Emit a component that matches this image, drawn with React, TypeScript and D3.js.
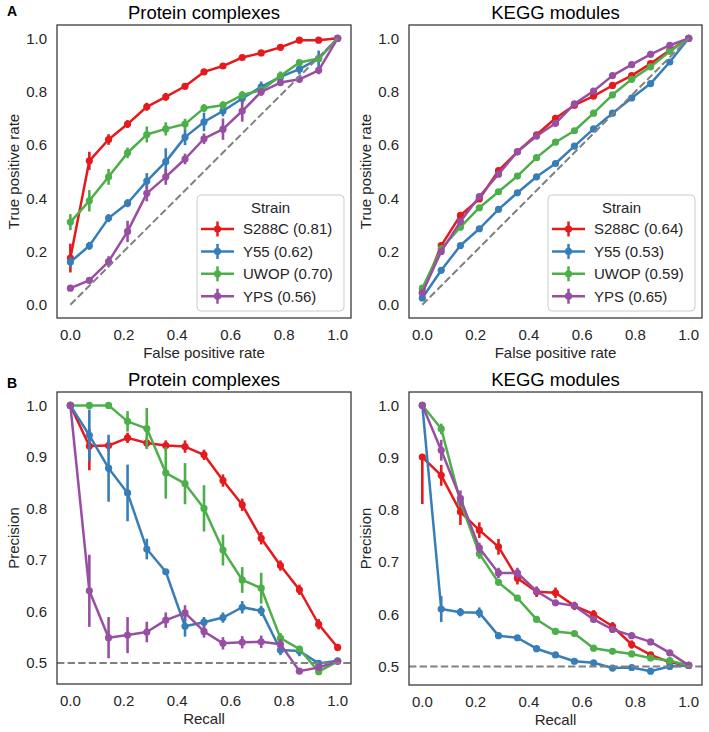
import React from "react";
import * as d3 from "d3";

// ---------- data ----------
const thresholds = [0, 0.071, 0.143, 0.214, 0.286, 0.357, 0.429, 0.5, 0.571, 0.643, 0.714, 0.786, 0.857, 0.929, 1.0];
const strains = ["S288C", "Y55", "UWOP", "YPS"];
const strainColors = ["#e41a1c", "#377eb8", "#4daf4a", "#984ea3"];

// A: ROC, protein complexes
const rocComplexS288C = [0.175, 0.54, 0.62, 0.678, 0.743, 0.78, 0.82, 0.874, 0.896, 0.928, 0.945, 0.966, 0.993, 0.993, 1.0];
const rocComplexY55 = [0.16, 0.221, 0.325, 0.381, 0.464, 0.537, 0.629, 0.686, 0.727, 0.774, 0.818, 0.855, 0.884, 0.924, 1.0];
const rocComplexUWOP = [0.31, 0.39, 0.48, 0.57, 0.639, 0.66, 0.678, 0.738, 0.749, 0.787, 0.805, 0.859, 0.909, 0.924, 1.0];
const rocComplexYPS = [0.062, 0.091, 0.162, 0.275, 0.418, 0.48, 0.547, 0.623, 0.659, 0.727, 0.799, 0.834, 0.846, 0.88, 1.0];
const rocComplexErrS288C: (number | number[])[] = [0.054, 0.034, 0.02, 0.015, 0.015, 0.015, 0.012, 0.01, 0.01, 0.008, 0.008, 0.008, 0.005, 0.005, 0];
const rocComplexErrY55: (number | number[])[] = [0.02, 0.015, 0.015, 0.015, 0.03, 0.05, 0.03, 0.035, 0.02, 0.02, 0.02, 0.02, 0.02, 0.03, 0];
const rocComplexErrUWOP: (number | number[])[] = [0.03, 0.04, 0.03, 0.02, 0.03, 0.025, 0.02, 0.015, 0.015, 0.015, 0.015, 0.015, 0.01, 0.01, 0];
const rocComplexErrYPS: (number | number[])[] = [0.005, 0.01, 0.02, 0.04, 0.03, 0.03, 0.02, 0.02, 0.04, 0.04, 0.015, 0.01, 0.01, 0.015, 0];
const rocComplexAUC = ["0.81", "0.62", "0.70", "0.56"];

// A: ROC, KEGG modules
const rocKeggS288C = [0.045, 0.222, 0.335, 0.397, 0.503, 0.574, 0.638, 0.7, 0.749, 0.783, 0.823, 0.86, 0.905, 0.955, 1.0];
const rocKeggY55 = [0.025, 0.129, 0.222, 0.285, 0.358, 0.42, 0.48, 0.53, 0.595, 0.66, 0.719, 0.776, 0.83, 0.911, 1.0];
const rocKeggUWOP = [0.062, 0.21, 0.291, 0.364, 0.424, 0.483, 0.552, 0.61, 0.653, 0.719, 0.788, 0.846, 0.893, 0.951, 1.0];
const rocKeggYPS = [0.045, 0.2, 0.312, 0.406, 0.49, 0.574, 0.633, 0.681, 0.754, 0.802, 0.86, 0.901, 0.94, 0.974, 1.0];
const rocKeggErrS288C: (number | number[])[] = [0.005, 0.01, 0.01, 0.008, 0.008, 0.006, 0.006, 0.005, 0.005, 0.005, 0.005, 0.004, 0.004, 0.003, 0];
const rocKeggErrY55: (number | number[])[] = [0.004, 0.008, 0.008, 0.006, 0.006, 0.005, 0.005, 0.005, 0.005, 0.005, 0.004, 0.004, 0.004, 0.003, 0];
const rocKeggErrUWOP: (number | number[])[] = [0.005, 0.008, 0.008, 0.006, 0.006, 0.005, 0.005, 0.005, 0.005, 0.005, 0.004, 0.004, 0.004, 0.003, 0];
const rocKeggErrYPS: (number | number[])[] = [0.005, 0.01, 0.012, 0.008, 0.008, 0.006, 0.006, 0.005, 0.005, 0.005, 0.005, 0.004, 0.004, 0.003, 0];
const rocKeggAUC = ["0.64", "0.53", "0.59", "0.65"];

// B: precision-recall, protein complexes
const prComplexS288C = [1.0, 0.921, 0.922, 0.937, 0.927, 0.922, 0.92, 0.904, 0.854, 0.807, 0.742, 0.689, 0.642, 0.575, 0.53];
const prComplexY55 = [1.0, 0.942, 0.878, 0.83, 0.721, 0.677, 0.571, 0.579, 0.588, 0.608, 0.601, 0.525, 0.523, 0.499, 0.504];
const prComplexUWOP = [1.0, 1.0, 1.0, 0.969, 0.955, 0.869, 0.848, 0.8, 0.719, 0.661, 0.645, 0.548, 0.527, 0.483, 0.503];
const prComplexYPS = [1.0, 0.64, 0.549, 0.554, 0.56, 0.583, 0.597, 0.561, 0.538, 0.54, 0.541, 0.536, 0.484, 0.491, 0.503];
const prComplexErrS288C: (number | number[])[] = [0, [0.047, 0.033], 0.01, 0.01, 0.01, 0.01, 0.012, 0.01, 0.012, 0.012, 0.012, 0.01, 0.01, 0.01, 0];
const prComplexErrY55: (number | number[])[] = [0, 0.05, 0.065, 0.055, 0.02, 0.005, 0.02, 0.01, 0.01, 0.012, 0.01, 0.01, 0.01, 0.005, 0.005];
const prComplexErrUWOP: (number | number[])[] = [0, 0, 0, 0.02, 0.04, 0.05, 0.04, 0.045, 0.03, 0.025, 0.03, 0.01, 0.005, 0.005, 0];
const prComplexErrYPS: (number | number[])[] = [0, 0.07, 0.04, 0.035, 0.02, 0.015, 0.015, 0.012, 0.012, 0.012, 0.012, 0.01, 0.005, 0.005, 0];

// B: precision-recall, KEGG modules
const prKeggS288C = [0.901, 0.866, 0.796, 0.761, 0.729, 0.669, 0.643, 0.641, 0.616, 0.6, 0.577, 0.542, 0.522, 0.508, 0.502];
const prKeggY55 = [1.0, 0.61, 0.604, 0.603, 0.559, 0.555, 0.534, 0.522, 0.51, 0.507, 0.497, 0.498, 0.491, 0.5, 0.502];
const prKeggUWOP = [1.0, 0.955, 0.815, 0.716, 0.661, 0.631, 0.59, 0.567, 0.563, 0.535, 0.529, 0.524, 0.516, 0.511, 0.502];
const prKeggYPS = [1.0, 0.914, 0.822, 0.727, 0.679, 0.679, 0.644, 0.622, 0.616, 0.59, 0.571, 0.559, 0.547, 0.526, 0.502];
const prKeggErrS288C: (number | number[])[] = [[0.09, 0.0], 0.02, 0.025, 0.015, 0.015, 0.012, 0.01, 0.01, 0.008, 0.008, 0.008, 0.008, 0.005, 0.005, 0];
const prKeggErrY55: (number | number[])[] = [0, 0.025, 0.008, 0.01, 0.005, 0.005, 0.005, 0.005, 0.005, 0.005, 0.004, 0.004, 0.004, 0.004, 0];
const prKeggErrUWOP: (number | number[])[] = [0, 0.01, 0.01, 0.01, 0.006, 0.006, 0.005, 0.005, 0.005, 0.005, 0.004, 0.004, 0.004, 0.004, 0];
const prKeggErrYPS: (number | number[])[] = [0, 0.02, 0.015, 0.01, 0.01, 0.01, 0.006, 0.005, 0.005, 0.005, 0.005, 0.005, 0.005, 0.005, 0];

const rocTicks = [0.0, 0.2, 0.4, 0.6, 0.8, 1.0];
const prYTicks = [0.5, 0.6, 0.7, 0.8, 0.9, 1.0];
const xTicks = [0.0, 0.2, 0.4, 0.6, 0.8, 1.0];

// ---------- style ----------
const FONT = "'Liberation Sans', Arial, Helvetica, sans-serif";
const TEXT = "#262626";

type Series = { name: string; color: string; values: number[]; err: (number | number[])[] };

function mkSeries(vals: number[][], errs: (number | number[])[][], aucs?: string[]): Series[] {
  return strains.map((s, i) => ({
    name: aucs ? `${s} (${aucs[i]})` : s,
    color: strainColors[i],
    values: vals[i],
    err: errs[i],
  }));
}

type PanelProps = {
  left: number; top: number; width: number; height: number;
  yDomain: [number, number];
  yTicks: number[];
  title: string; xLabel: string; yLabel: string;
  series: Series[];
  diagonal?: boolean;
  hline?: number;
  legend?: boolean;
};

function Panel(p: PanelProps) {
  const x = d3.scaleLinear().domain([-0.05, 1.05]).range([p.left, p.left + p.width]);
  const y = d3.scaleLinear().domain(p.yDomain).range([p.top + p.height, p.top]);
  const line = d3.line<number>().x((_, i) => x(thresholds[i])).y((d) => y(d));
  const right = p.left + p.width;
  const bottom = p.top + p.height;
  const clipId = `clip-${p.left}-${p.top}`;

  const lgW = 147, lgH = 116;
  const lgX = right - 7 - lgW;
  const lgY = bottom - 7 - lgH;

  return (
    <g>
      <defs>
        <clipPath id={clipId}>
          <rect x={p.left} y={p.top} width={p.width} height={p.height} />
        </clipPath>
      </defs>
      <g clipPath={`url(#${clipId})`}>
        {p.series.map((s) => (
          <g key={s.name}>
            <path d={line(s.values) || ""} fill="none" stroke={s.color} strokeWidth={2.5} strokeLinejoin="round" />
            {s.values.map((v, i) => {
              const e = s.err[i];
              const dn = Array.isArray(e) ? e[0] : e;
              const up = Array.isArray(e) ? e[1] : e;
              if (dn === 0 && up === 0) return null;
              return (
                <line key={i} x1={x(thresholds[i])} x2={x(thresholds[i])} y1={y(v - dn)} y2={y(v + up)} stroke={s.color} strokeWidth={2.6} />
              );
            })}
            {s.values.map((v, i) => (
              <circle key={`m${i}`} cx={x(thresholds[i])} cy={y(v)} r={3.6} fill={s.color} />
            ))}
          </g>
        ))}
        {p.diagonal && (
          <line x1={x(0)} y1={y(0)} x2={x(1)} y2={y(1)} stroke="#808080" strokeWidth={2} strokeDasharray="7.4,3.2" />
        )}
        {p.hline !== undefined && (
          <line x1={p.left} x2={right} y1={y(p.hline)} y2={y(p.hline)} stroke="#808080" strokeWidth={2} strokeDasharray="7.4,3.2" />
        )}
      </g>
      <rect x={p.left} y={p.top} width={p.width} height={p.height} fill="none" stroke="#333" strokeWidth={1.25} />
      {p.yTicks.map((t) => (
        <text key={`y${t}`} x={p.left - 10} y={y(t)} dy="0.36em" textAnchor="end" fontSize={15} fill={TEXT} fontFamily={FONT}>
          {t.toFixed(1)}
        </text>
      ))}
      {xTicks.map((t) => (
        <text key={`x${t}`} x={x(t)} y={bottom + 22} textAnchor="middle" fontSize={15} fill={TEXT} fontFamily={FONT}>
          {t.toFixed(1)}
        </text>
      ))}
      <text x={(p.left + right) / 2} y={bottom + 40} textAnchor="middle" fontSize={15} fill={TEXT} fontFamily={FONT}>
        {p.xLabel}
      </text>
      <text transform={`translate(${p.left - 38},${(p.top + bottom) / 2}) rotate(-90)`} textAnchor="middle" fontSize={15} fill={TEXT} fontFamily={FONT}>
        {p.yLabel}
      </text>
      <text x={(p.left + right) / 2} y={p.top - 6} textAnchor="middle" fontSize={18.5} fill="#000" fontFamily={FONT}>
        {p.title}
      </text>
      {p.legend && (
        <g>
          <rect x={lgX} y={lgY} width={lgW} height={lgH} rx={4} ry={4} fill="#fff" fillOpacity={0.8} stroke="#cccccc" strokeWidth={1} />
          <text x={lgX + lgW / 2} y={lgY + 13} dy="0.36em" textAnchor="middle" fontSize={15} fill={TEXT} fontFamily={FONT}>
            Strain
          </text>
          {p.series.map((s, i) => {
            const cy = lgY + 34 + i * 22.4;
            return (
              <g key={`lg${s.name}`}>
                <line x1={lgX + 4} x2={lgX + 37} y1={cy} y2={cy} stroke={s.color} strokeWidth={2.5} />
                <line x1={lgX + 20.5} x2={lgX + 20.5} y1={cy - 7.5} y2={cy + 7.5} stroke={s.color} strokeWidth={2.5} />
                <circle cx={lgX + 20.5} cy={cy} r={3.6} fill={s.color} />
                <text x={lgX + 46} y={cy} dy="0.36em" fontSize={15} fill={TEXT} fontFamily={FONT}>
                  {s.name}
                </text>
              </g>
            );
          })}
        </g>
      )}
    </g>
  );
}

export default function App() {
  const rocComplex = mkSeries(
    [rocComplexS288C, rocComplexY55, rocComplexUWOP, rocComplexYPS],
    [rocComplexErrS288C, rocComplexErrY55, rocComplexErrUWOP, rocComplexErrYPS],
    rocComplexAUC
  );
  const rocKegg = mkSeries(
    [rocKeggS288C, rocKeggY55, rocKeggUWOP, rocKeggYPS],
    [rocKeggErrS288C, rocKeggErrY55, rocKeggErrUWOP, rocKeggErrYPS],
    rocKeggAUC
  );
  const prComplex = mkSeries(
    [prComplexS288C, prComplexY55, prComplexUWOP, prComplexYPS],
    [prComplexErrS288C, prComplexErrY55, prComplexErrUWOP, prComplexErrYPS]
  );
  const prKegg = mkSeries(
    [prKeggS288C, prKeggY55, prKeggUWOP, prKeggYPS],
    [prKeggErrS288C, prKeggErrY55, prKeggErrUWOP, prKeggErrYPS]
  );

  return (
    <svg width={709} height={732} style={{ position: "absolute", left: 0, top: 0, background: "#fff" }}>
      <rect width={709} height={732} fill="#fff" />
      <text x={7} y={16} fontSize={14} fontWeight="bold" fill="#000" fontFamily={FONT}>A</text>
      <text x={7} y={388} fontSize={14} fontWeight="bold" fill="#000" fontFamily={FONT}>B</text>
      <Panel left={57} top={25} width={294} height={293} yDomain={[-0.05, 1.05]} yTicks={rocTicks}
        title="Protein complexes" xLabel="False positive rate" yLabel="True positive rate"
        series={rocComplex} diagonal legend />
      <Panel left={409} top={25} width={293} height={293} yDomain={[-0.05, 1.05]} yTicks={rocTicks}
        title="KEGG modules" xLabel="False positive rate" yLabel="True positive rate"
        series={rocKegg} diagonal legend />
      <Panel left={57} top={392} width={294} height={292} yDomain={[0.459, 1.026]} yTicks={prYTicks}
        title="Protein complexes" xLabel="Recall" yLabel="Precision"
        series={prComplex} hline={0.5} />
      <Panel left={409} top={392} width={293} height={293} yDomain={[0.4645, 1.0255]} yTicks={prYTicks}
        title="KEGG modules" xLabel="Recall" yLabel="Precision"
        series={prKegg} hline={0.5} />
    </svg>
  );
}
